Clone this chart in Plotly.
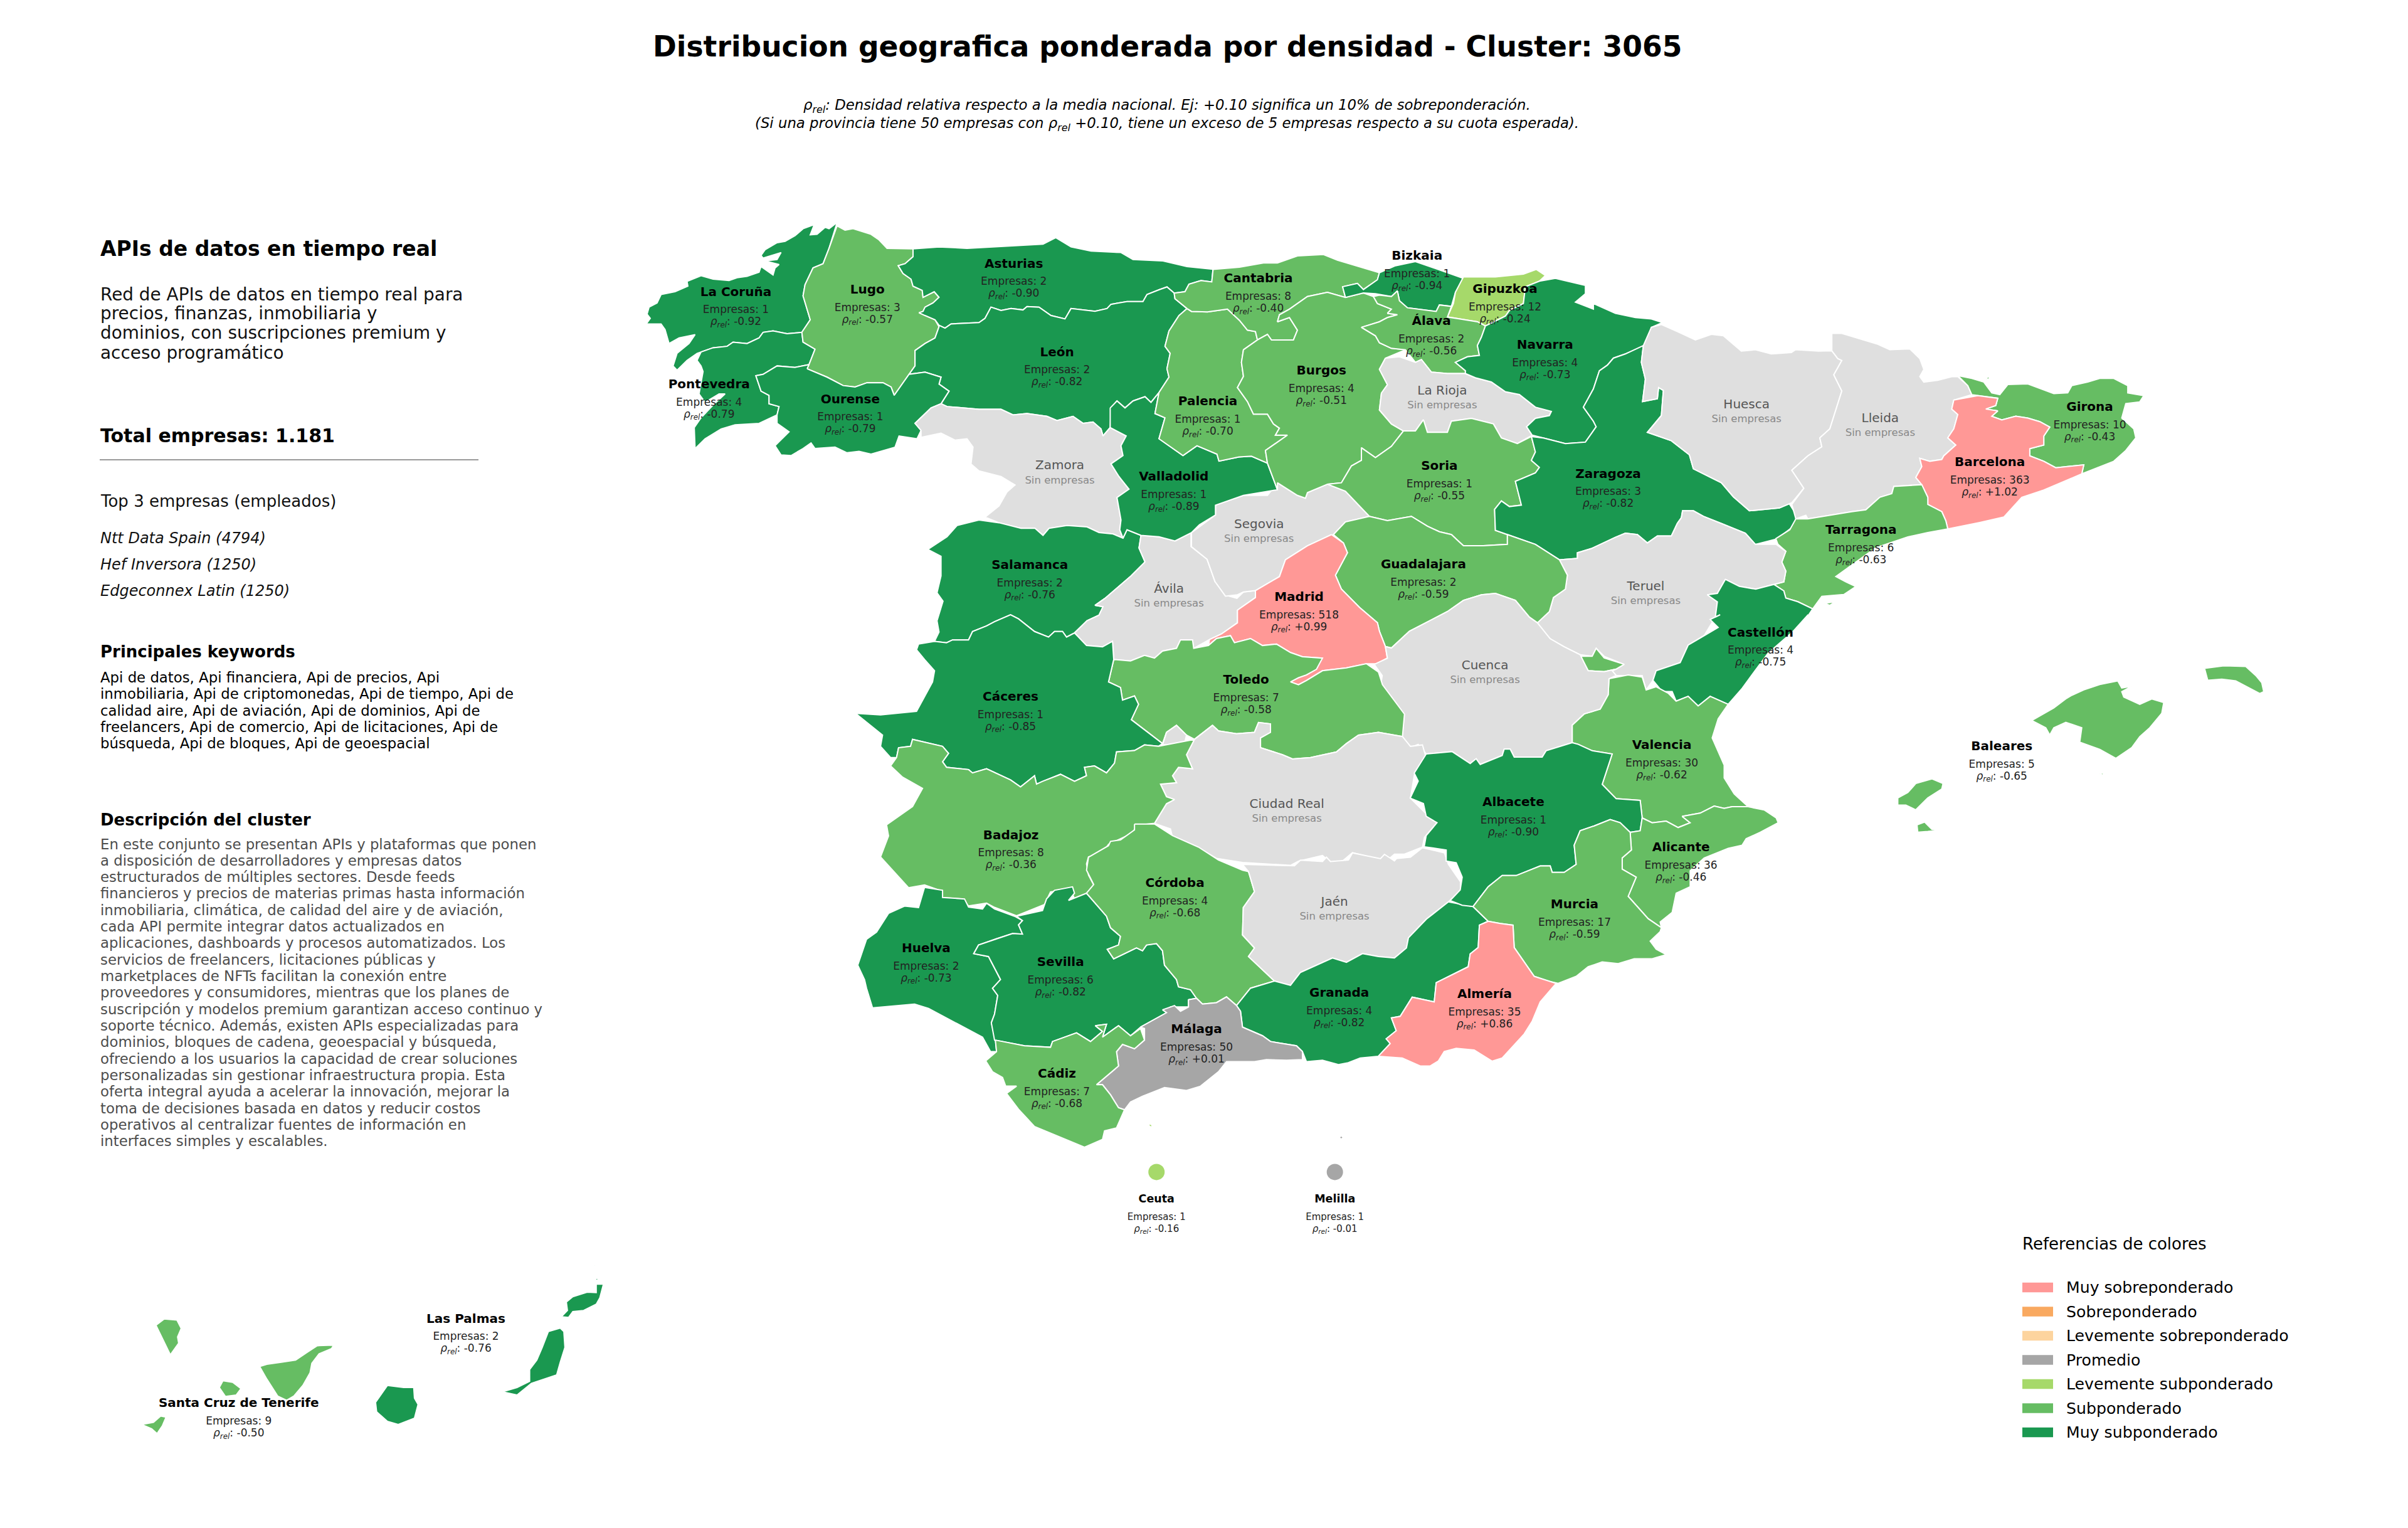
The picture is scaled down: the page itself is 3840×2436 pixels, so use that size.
import plotly.graph_objects as go

# ---------- data ----------
PROVINCES = ["La Coruña","Lugo","Asturias","León","Pontevedra","Ourense","Salamanca","Valladolid","Palencia",
             "Cantabria","Bizkaia","Gipuzkoa","Álava","Navarra","Burgos","Soria","Zaragoza","Guadalajara","Madrid",
             "Castellón","Girona","Barcelona","Tarragona","Baleares","Cáceres","Toledo","Badajoz","Córdoba","Huelva",
             "Sevilla","Granada","Málaga","Cádiz","Valencia","Albacete","Alicante","Murcia","Almería",
             "Las Palmas","Santa Cruz de Tenerife","Ceuta","Melilla"]
EMPRESAS = [1,3,2,2,4,1,2,1,1,8,1,12,2,4,4,1,3,2,518,4,10,363,6,5,1,7,8,4,2,6,4,50,7,30,1,36,17,35,2,9,1,1]
RHO = [-0.92,-0.57,-0.90,-0.82,-0.79,-0.79,-0.76,-0.89,-0.70,-0.40,-0.94,-0.24,-0.56,-0.73,-0.51,-0.55,-0.82,-0.59,0.99,
       -0.75,-0.43,1.02,-0.63,-0.65,-0.85,-0.58,-0.36,-0.68,-0.73,-0.82,-0.82,0.01,-0.68,-0.62,-0.90,-0.46,-0.59,0.86,
       -0.76,-0.50,-0.16,-0.01]
CLASSES = ["Muy subponderado","Subponderado","Muy subponderado","Muy subponderado","Muy subponderado","Muy subponderado",
           "Muy subponderado","Muy subponderado","Subponderado","Subponderado","Muy subponderado","Levemente subponderado",
           "Subponderado","Muy subponderado","Subponderado","Subponderado","Muy subponderado","Subponderado","Muy sobreponderado",
           "Muy subponderado","Subponderado","Muy sobreponderado","Subponderado","Subponderado","Muy subponderado","Subponderado",
           "Subponderado","Subponderado","Muy subponderado","Muy subponderado","Muy subponderado","Promedio","Subponderado",
           "Subponderado","Muy subponderado","Subponderado","Subponderado","Muy sobreponderado","Muy subponderado","Subponderado",
           "Levemente subponderado","Promedio"]
EMPTY = ["Zamora","Ávila","Segovia","La Rioja","Huesca","Lleida","Teruel","Cuenca","Ciudad Real","Jaén"]
LEGEND_LABELS = ["Muy sobreponderado","Sobreponderado","Levemente sobreponderado","Promedio",
                 "Levemente subponderado","Subponderado","Muy subponderado"]
LEGEND_COLORS = ["#FF9896","#F9A960","#FDD49E","#A6A6A6","#A6D96A","#66BD63","#1A9850"]
EMPTY_COLOR = "#DFDFDF"
TOP3 = ["Ntt Data Spain (4794)","Hef Inversora (1250)","Edgeconnex Latin (1250)"]
INTRO = ["Red de APIs de datos en tiempo real para","precios, finanzas, inmobiliaria y",
         "dominios, con suscripciones premium y","acceso programático"]
KEYWORDS = ["Api de datos, Api financiera, Api de precios, Api","inmobiliaria, Api de criptomonedas, Api de tiempo, Api de",
            "calidad aire, Api de aviación, Api de dominios, Api de","freelancers, Api de comercio, Api de licitaciones, Api de",
            "búsqueda, Api de bloques, Api de geoespacial"]
DESCRIPTION = ["En este conjunto se presentan APIs y plataformas que ponen","a disposición de desarrolladores y empresas datos",
  "estructurados de múltiples sectores. Desde feeds","financieros y precios de materias primas hasta información",
  "inmobiliaria, climática, de calidad del aire y de aviación,","cada API permite integrar datos actualizados en",
  "aplicaciones, dashboards y procesos automatizados. Los","servicios de freelancers, licitaciones públicas y",
  "marketplaces de NFTs facilitan la conexión entre","proveedores y consumidores, mientras que los planes de",
  "suscripción y modelos premium garantizan acceso continuo y","soporte técnico. Además, existen APIs especializadas para",
  "dominios, bloques de cadena, geoespacial y búsqueda,","ofreciendo a los usuarios la capacidad de crear soluciones",
  "personalizadas sin gestionar infraestructura propia. Esta","oferta integral ayuda a acelerar la innovación, mejorar la",
  "toma de decisiones basada en datos y reducir costos","operativos al centralizar fuentes de información en",
  "interfaces simples y escalables."]

# reading frames used when the outlines were traced: x0, y0, x-scale, y-scale
F = {1:(1000,320,1.568,2.24),2:(1900,350,1.568,2.24),3:(2800,500,1.568,1.742),4:(1350,980,1.568,2.24),
     5:(1350,1300,1.568,2.178),6:(2150,980,1.568,1.96),7:(150,2000,1.742,2.97)}

# province outlines: rings of (frame, "x,y x,y ...") pieces
OUTLINES = {
"La Coruña":[[(1,"525,78 505,100 495,95 475,120 458,122 468,85 440,100 420,125 395,145 375,150 345,175 335,195 340,205 385,185 375,210 345,215 380,228 370,240 365,265 335,235 330,255 300,270 275,275 255,285 215,280 185,268 150,288 152,305 120,325 85,335 75,365 55,380 50,405 58,420 48,440 85,440 95,460 105,510 130,490 170,478 155,510 125,545 115,590 125,605 150,570 175,545 185,540 215,525 250,520 265,505 300,510 330,490 340,470 365,465 400,475 437,470 458,425 440,340 445,300 465,240 490,225 505,170")]],
"Pontevedra":[[(1,"185,540 215,525 250,520 265,505 300,510 330,490 340,470 365,465 400,475 437,470 440,505 470,530 455,585 420,595 375,590 340,620 322,625 335,680 355,695 355,725 380,735 375,765 330,795 270,800 235,815 195,850 170,885 168,810 185,775 215,730 245,690 230,690 195,720 180,690 185,650 190,610 185,590 175,570")]],
"Lugo":[[(1,"525,90 545,105 565,100 610,120 630,140 650,170 715,172 715,200 695,225 678,232 690,260 710,280 715,305 738,320 740,345 768,325 780,345 765,365 745,380 740,395 730,400 745,410 770,425 780,450 770,490 745,510 720,535 720,590 705,620 668,695 660,665 640,650 600,650 570,665 540,660 500,630 450,600 455,585 470,530 440,505 437,470 458,425 440,340 445,300 465,240 490,225 505,170")]],
"Asturias":[[(1,"715,172 780,165 850,170 910,165 970,160 1040,155 1072,132 1110,165 1160,180 1235,185 1265,210 1340,215 1400,235 1465,245 1462,290 1435,285 1405,298 1395,325 1368,330 1350,308 1330,318 1300,335 1290,360 1250,360 1210,370 1200,385 1170,395 1110,385 1095,422 1060,410 1030,380 1000,378 990,390 960,385 935,392 910,380 895,420 880,435 810,440 795,455 780,445 770,425 745,410 730,400 740,395 745,380 765,365 780,345 768,325 740,345 738,320 715,305 710,280 690,260 678,232 695,225 715,200")]],
"León":[[(1,"780,445 795,455 810,440 880,435 895,420 910,380 935,392 960,385 990,390 1000,378 1030,380 1060,410 1095,422 1110,385 1170,395 1200,385 1210,370 1250,360 1290,360 1300,335 1330,318 1350,308 1368,330 1370,350 1400,385 1380,410 1355,465 1345,520 1358,545 1350,600 1355,630 1330,685 1310,720 1295,700 1265,715 1245,740 1225,715 1210,740 1208,810 1190,840 1185,815 1165,790 1140,795 1115,770 1075,785 1050,770 1000,760 965,765 935,745 880,745 800,735 785,725 805,680 780,655 785,630 745,612 705,620 720,590 720,535 745,510 770,490 780,450")]],
"Ourense":[[(1,"450,600 500,630 540,660 570,665 600,650 640,650 660,665 668,695 705,620 745,612 785,630 780,655 805,680 785,725 760,740 720,795 735,820 725,850 680,840 670,880 610,905 580,895 550,900 520,880 470,885 460,865 440,885 410,910 385,908 370,875 405,825 375,795 375,765 380,735 355,725 355,695 335,680 322,625 340,620 375,590 420,595 455,585")]],
"Zamora":[[(1,"785,725 800,735 880,745 935,745 965,765 1000,760 1050,770 1075,785 1115,770 1140,795 1165,790 1185,815 1190,840 1208,810 1235,830 1248,840 1235,875 1240,910 1210,940 1230,985 1255,1030 1225,1060 1235,1140 1232,1175 1240,1205 1215,1190 1180,1185 1150,1165 1100,1160 1055,1170 1040,1195 1020,1170 985,1170 930,1150 895,1130 930,1090 950,1040 970,1015 935,985 880,965 860,940 865,880 850,850 820,855 785,830 735,845 735,820 720,795 760,740")]],
"Salamanca":[[(1,"825,1160 880,1140 930,1150 985,1170 1020,1170 1040,1195 1055,1170 1100,1160 1150,1165 1180,1185 1215,1190 1240,1205 1250,1175 1285,1195 1280,1240 1295,1290 1260,1340 1195,1420 1170,1445 1190,1450 1180,1480 1150,1500"),(4,"570,65 550,80 540,60 520,60 505,80 470,60 430,15 410,0 370,25 350,40 315,60 305,90 265,90 250,100 220,95"),(1,"780,1540 775,1500 790,1430 775,1400 785,1340 785,1270 752,1245 800,1200")]],
"Ávila":[[(4,"570,65"),(1,"1150,1500 1180,1480 1190,1450 1170,1445 1195,1420 1260,1340 1295,1290 1280,1240 1285,1195 1330,1200 1370,1215 1410,1185 1410,1235 1450,1280 1470,1360 1500,1410 1525,1420"),(2,"130,1330 160,1325 160,1350 115,1395 115,1440 75,1480 45,1500"),(4,"868,120 865,90 835,90 825,120 790,130 770,155 745,145 710,165 668,160 665,95 640,115 600,110")]],
"Segovia":[[(2,"60,1020 130,985 190,985 215,940 265,985 285,995 290,975 340,945 385,970 445,1060 385,1080 355,1125 290,1165 235,1215 220,1275 160,1325 130,1330 115,1340 85,1345 59,1293 39,1213 0,1168 0,1118 60,1055")]],
"Valladolid":[[(1,"1208,740 1225,715 1245,740 1265,715 1295,700 1310,720 1330,685 1320,760 1345,775 1330,850 1390,910 1425,875 1475,905 1480,930 1530,915"),(2,"150,845 190,870 215,965 130,985 60,1020 60,1055 20,1090 0,1118"),(1,"1370,1215 1330,1200 1285,1195 1250,1175 1240,1205 1232,1175 1235,1140 1225,1060 1255,1030 1230,985 1210,940 1240,910 1235,875 1248,840 1208,810")]],
"Palencia":[[(1,"1400,385 1380,410 1355,465 1345,520 1358,545 1350,600 1355,630 1330,685 1320,760 1345,775 1330,850 1390,910 1425,875 1475,905 1480,930 1530,915"),(2,"150,845 190,870 185,825 240,770 210,770 220,745 205,730 190,695 155,695 140,650 115,600 130,560 125,510 130,465 165,430 160,400 140,395 120,360 90,320 40,330 0,328")]],
"Cantabria":[[(2,"54,178 120,170 180,155 215,155 265,130 330,125 365,145 400,160 470,190 465,215 430,250 415,228 378,240 385,278 340,260 290,275 245,320 220,340 215,365 245,350 265,395 255,430 200,430 190,410 165,430 160,400 140,395 120,360 90,320 40,330 0,328"),(1,"1400,385 1370,350 1368,330 1395,325 1405,298 1435,285 1462,290")]],
"Burgos":[[(2,"130,465 165,430 190,410 200,430 255,430 265,395 245,350 215,365 220,340 245,320 290,275 340,260 385,278 430,262 455,275 465,300 500,320 490,335 515,340 490,350 470,365 425,385 460,415 470,440 500,460 535,465 485,495 470,535 490,590 475,620 470,680 500,730 530,755 500,810 460,850 425,815 425,860 400,880 375,940 340,945 290,975 285,995 265,985 215,940 215,965 190,870 185,825 240,770 210,770 220,745 205,730 190,695 155,695 140,650 115,600 130,560 125,510")]],
"Bizkaia":[[(2,"470,190 510,165 560,150 600,170 650,195 680,210 660,260 650,310 620,305 612,328 540,315 520,290 515,255 500,275 460,265 430,262 385,278 378,240 415,228 430,250 465,215")]],
"Gipuzkoa":[[(2,"680,205 760,205 830,195 862,178 885,200 870,220 835,240 830,300 795,325 785,345 735,380 715,365 640,348 655,300 660,260")]],
"Álava":[[(2,"455,275 470,270 500,275 515,255 520,290 540,315 612,328 620,305 650,310 640,348 715,365 735,380 725,420 715,450 720,485 690,490 660,510 685,540 685,550 640,550 600,545 575,500 560,510 535,465 500,460 470,440 460,415 425,385 470,365 490,350 515,340 490,335 500,320 465,300")]],
"La Rioja":[[(2,"485,495 520,490 560,510 575,500 600,545 640,550 685,550 710,565 750,580 785,615 820,625 860,670 900,685 895,700 860,710 838,740 852,770 815,800 775,780 755,730 700,710 650,720 640,760 590,760 580,715 560,755 530,755 500,730 470,680 475,620 490,590 470,535")]],
"Soria":[[(2,"530,755 560,755 580,715 590,760 640,760 650,720 700,710 755,730 775,780 815,800 850,775 860,830 850,860 870,885 860,905 810,935 825,1020 795,1025 775,1005 758,1035 760,1110 790,1125 790,1160 730,1165 680,1165 665,1145 650,1125 620,1115 590,1095 550,1060 490,1075 445,1060 385,970 340,945 375,940 400,880 425,860 425,815 460,850 500,810")]],
"Navarra":[[(2,"870,220 910,210 985,235 985,265 960,295 1005,320 1005,300 1060,335 1110,350 1150,355 1178,368 1150,385 1145,440 1125,455 1085,480 1055,495 1040,520 1020,540 1005,605 980,670 1005,720 1012,740 985,795 935,800 880,780 852,770 838,740 860,710 895,700 900,685 860,670 820,625 785,615 750,580 710,565 685,550 685,540 660,510 690,490 720,485 715,450 725,420 735,380 785,345 795,325 830,300 835,240")],
           [(2,"1065,572 1078,558 1090,578")],[(2,"1047,585 1060,580 1056,595")]],
"Zaragoza":[[(2,"1130,450 1125,510 1135,570 1128,650 1165,640 1168,600 1180,610 1175,700 1140,760 1200,790 1245,840 1255,890 1325,940 1355,990 1395,1040 1470,1030 1495,1015 1515,1060 1510,1090 1465,1140 1410,1160 1385,1120 1325,1085 1280,1060 1255,1040 1228,1040 1225,1065 1215,1085 1200,1130 1165,1130 1140,1155 1115,1125 1085,1120 1060,1135 1000,1175 965,1190 965,1210 920,1215 860,1160 790,1125 760,1110 758,1035 775,1005 795,1025 825,1020 810,935 860,905 870,885 850,860 860,830 850,775 880,780 935,800 985,795 1012,740 1005,720 980,670 1005,605 1020,540 1040,520 1055,495 1085,480")]],
"Huesca":[[(2,"1130,450 1150,385 1175,375 1215,400 1260,430 1300,410 1330,415 1375,470 1410,465 1450,480 1500,475 1510,465 1568,470"),(3,"190,103 205,125 215,130 195,170 215,215 205,250 185,320 160,345 165,370 130,395 90,435 120,485 90,525"),(2,"1470,1030 1395,1040 1355,990 1325,940 1255,890 1245,840 1200,790 1140,760 1175,700 1180,610 1168,600 1165,640 1128,650 1135,570 1125,510")]],
"Lleida":[[(3,"190,103 190,55 215,55 260,70 305,85 335,100 385,98 410,125 420,155 410,175 420,190 455,185 490,175 505,175 530,200 540,225 495,240 490,265 505,280 495,320 480,345 500,365 470,395 465,405 435,410 410,402 415,425 400,455 415,475 345,480 340,500 310,510 275,545 240,550 130,570 125,560 100,570 90,530 120,485 90,435 130,395 165,370 160,345 185,320 205,250 215,215 195,170 215,130 205,125")]],
"Girona":[[(3,"505,172 540,180 570,190 590,220 610,225 630,197 680,195 715,210 745,222 780,220 790,200 830,190 860,180 895,180 930,200 930,220 970,228 960,245 925,250 915,290 945,320 950,345 925,380 895,410 850,430 815,445 820,420 750,428 720,410 685,395 685,375 720,365 720,340 735,315 710,300 680,290 650,285 615,295 590,285 605,270 575,265 600,255 605,235 555,228 540,225 530,200")],[(3,"576,182 582,172 584,182")]],
"Barcelona":[[(3,"495,240 555,228 605,235 600,255 575,265 605,270 590,285 615,295 650,285 680,290 710,300 735,315 720,340 720,365 685,375 685,395 720,410 750,428 820,420 815,445 720,490 665,510 620,565 560,580 480,598 475,575 465,550 430,530 430,510 415,475 400,455 415,425 410,402 435,410 465,405 470,395 500,365 480,345 495,320 505,280 490,265")]],
"Tarragona":[[(3,"130,570 240,550 275,545 310,510 340,500 345,480 415,475 430,510 430,530 465,550 475,575 480,598 430,608 380,620 300,650 250,690 200,730 225,745 250,758 220,780 165,785 142,820 105,800 75,790 70,770 45,752 70,745 75,715 65,690 75,660 55,640 50,625 85,600 100,570")],[(3,"172,805 198,800 185,810")]],
"Teruel":[[(2,"920,1215 965,1210 965,1190 1000,1175 1060,1135 1085,1120 1115,1125 1140,1155 1165,1130 1200,1130 1215,1085 1225,1065 1228,1040 1255,1040 1280,1060 1325,1085 1385,1120 1410,1160"),(3,"50,640 75,660 65,690 75,715 70,745 45,752 0,765"),(2,"1370,1310 1335,1285 1315,1335 1290,1340 1315,1365 1310,1420"),(6,"890,65 850,95 830,150 770,175 762,205 745,235 735,190 700,190 670,190 660,175 690,155 640,130 620,105 610,130 580,125 540,100 505,75 470,30"),(2,"865,1440 895,1400 905,1350 935,1320 940,1270")]],
"Castellón":[[(2,"1335,1285 1370,1310 1411,1320"),(3,"45,752 70,770 75,790 105,800 142,820 100,890"),(6,"1150,0 1110,55 1050,120 1020,170 985,230 950,280 905,255 875,285 850,255 820,270 810,240 785,240 762,205 770,175 830,150 850,95 890,65 925,40 905,15 930,0"),(2,"1310,1420 1315,1365 1290,1340 1315,1335")]],
"Valencia":[[(6,"652,200 700,188 735,195 745,235 770,225 800,245 820,270 850,255 875,285 905,255 950,280 925,325 910,385 940,470 940,510 965,560 1000,600 960,600 940,605 915,598 880,620 835,630 855,650 825,665 795,645 760,650 735,635 730,580 670,575 635,530 660,435 610,425 575,405 560,400 560,345 590,310 630,295 650,250")],
            [(6,"580,130 610,130 620,105 640,135 690,155 670,170 640,178 600,175")]],
"Guadalajara":[[(2,"355,1125 385,1080 445,1060 490,1075 550,1060 590,1095 620,1115 650,1125 665,1145 680,1165 730,1165 790,1160 790,1125 860,1160 920,1215 940,1270 935,1320 905,1350 895,1400 865,1440 845,1420 810,1360 760,1335 725,1340 680,1360 640,1400 600,1430 545,1470 500,1530 485,1525 470,1470 465,1440 420,1385 375,1320 360,1270 390,1190 380,1155")]],
"Madrid":[[(2,"350,1125 380,1155 390,1190 360,1270 375,1320 420,1385 465,1440 470,1470 485,1525"),(4,"1352,155 1325,175 1300,175 1250,190 1190,200 1150,235 1130,250 1110,240 1130,225 1190,155 1140,150 1110,135 1075,105 1040,110 1010,85 970,100 960,75 925,85 905,110"),(2,"45,1500 75,1480 115,1440 115,1395 160,1350 160,1325 220,1275 235,1215 290,1165")]],
"Cuenca":[[(2,"485,1525 500,1530 545,1470 600,1430 640,1400 680,1360 725,1340 760,1335 810,1360 845,1420 865,1440"),(6,"505,75 540,100 580,125 600,175 640,178 670,170 660,175 670,190 652,200 650,250 630,295 590,310 560,345 560,400 495,425 485,445 415,445 405,420 390,420 385,440 330,468 320,450 305,465 260,428 195,435 175,405 150,418 135,380 140,315 80,230 85,190 65,155 98,136")]],
"Toledo":[[(4,"668,160 710,165 745,145 770,155 790,130 825,120 835,90 865,90 868,120 905,110 925,85 960,75 970,100 1010,85 1040,110 1075,105 1110,135 1140,150 1190,155 1175,195 1150,215 1130,225 1110,240 1130,250 1150,235 1190,200 1250,190 1300,175 1330,205 1340,250 1395,355 1390,435 1330,420 1280,430 1250,460 1225,490 1160,510 1115,515 1090,500 1035,475 1035,440 1060,420 1060,390 1030,385 1020,420 975,425 930,415 915,395 870,445 850,430 825,395 800,420 790,460 712,375 730,320 720,290 690,305 685,260 655,240")]],
"Ciudad Real":[[(4,"870,445 915,395 930,415 975,425 1020,420 1030,385 1060,390 1060,420 1035,440 1035,475 1090,500 1115,515 1160,510 1225,490 1250,460 1280,430 1330,420 1390,435 1410,470 1440,465 1450,515 1420,570 1410,655 1445,705 1478,740 1445,795 1440,830 1395,855 1370,855 1350,880 1265,850 1240,880 1210,885 1190,860 1130,880 1110,895 990,885 925,870 870,825 815,795 810,765 770,745 800,675 820,660 800,650 785,605 825,600 815,575 830,545 865,550 850,500")],
               [(4,"800,420 825,395 850,430 845,460 790,465")]],
"Cáceres":[[(4,"220,95 250,100 265,90 305,90 315,60 350,40 370,25 410,0 430,15 470,60 505,80 520,60 540,60 550,80 570,65 600,110 640,115 665,95 668,160 655,240 685,260 690,305 720,290 730,320 712,375 790,460 780,470 745,465 720,485 675,490 670,530 650,565 620,540 595,545 600,575 570,595 535,570 490,595 475,605 470,575 435,615 410,590 380,570 350,550 315,565 305,553 250,545 240,525 255,495 240,470 165,445 160,470 130,475 125,510 110,510 85,470 90,430 60,395 22,352 85,358 175,345 215,240 220,200 195,160 175,125 180,105")]],
"Badajoz":[[(4,"125,510 130,475 160,470 165,445 240,470 255,495 240,525 250,545 305,553 315,565 350,550 380,570 410,590 435,615 470,575 475,605 490,595 535,570 570,595 600,575 595,545 620,540 650,565 670,530 675,490 720,485 745,465 780,470 870,445 850,500 865,550 830,545 815,575 825,600 785,605 800,650 820,660 800,675 770,745 725,752 715,780 685,800 655,820 640,850 605,865 600,890 605,930 618,965 600,995 570,1015 560,980 510,990 495,1035 425,1075 370,1045 350,1030 305,1040 290,1015 240,1010 235,985 195,965 155,975 85,865 105,790 100,750 165,685 190,620 140,580 110,540")]],
"Huelva":[[(5,"195,250 240,260 240,285 295,290 305,318 340,325 350,305 370,325 420,350 440,365 430,380 440,412 415,410 375,428 330,450 318,480 355,490 385,570 365,600 378,625 370,690 362,720 372,775 375,820 360,820 340,770 205,670 170,655 65,668 50,600 45,570 28,520 50,430 75,405 105,340 145,315 180,320")]],
"Sevilla":[[(5,"425,350 490,330 500,290 520,260 565,248 570,270 555,295 600,270 650,350 660,390 685,420 680,450 652,465 668,498 725,460 740,470 750,450 775,445 790,470 795,520 825,570 830,595 860,605 875,635 855,640 855,665 810,665 800,685 735,735 710,765 680,730 640,770 650,725 622,730 640,750 610,785 575,755 515,785 510,805 445,800 370,780 362,720 370,690 378,625 365,600 385,570 355,490 318,480 330,450 375,428 415,410 440,412 430,380 440,365")]],
"Córdoba":[[(5,"720,30 770,30 815,70 880,110 930,155 990,190 1005,195 1020,265 992,320 990,415 1020,460 1005,490 1070,575 1010,600 975,660 950,630 925,650 890,655 875,635 860,605 830,595 825,570 795,520 790,470 775,445 750,450 740,470 725,460 668,498 652,465 680,450 685,420 660,390 650,350 600,270 618,240 600,190 605,145 655,105 660,90 685,85 720,50")]],
"Jaén":[[(5,"990,170 1120,175 1135,155 1190,160 1200,145 1210,160 1255,155 1265,130 1335,150 1345,135 1370,158 1375,150 1410,145 1440,112 1495,130 1505,170 1535,230 1535,260 1505,300 1450,360 1405,425 1400,460 1370,495 1330,490 1290,480 1250,510 1215,495 1135,545 1110,590 1070,575 1005,490 1020,460 990,415 992,320 1020,265 1005,195")]],
"Granada":[[(5,"975,660 1010,600 1070,575 1110,590 1135,545 1215,495 1250,510 1290,480 1330,490 1370,495 1400,460 1405,425 1450,360 1505,300"),(6,"312,912 350,958 328,970 325,1040 305,1060 300,1100 220,1150 215,1210 160,1195 130,1255 108,1260 120,1300 95,1325 105,1340 75,1380 30,1385 0,1400"),(5,"1230,865 1190,850 1150,855 1140,820 1125,800 1060,785 1040,765 990,735 985,680")]],
"Málaga":[[(5,"855,640 875,635 890,655 925,650 950,630 975,660 985,680 990,735 1040,765 1060,785 1125,800 1140,820 1140,848 1100,850 1050,848 1020,855 950,855 930,890 885,940 850,955 795,945 740,975 710,995 695,1022 680,1015 660,970 640,935 625,935 680,870 675,820 690,795 720,810 745,780 745,740 735,735 800,685 790,675 820,660 835,680 855,665")]],
"Cádiz":[[(5,"372,780 445,800 510,805 515,785 575,755 610,785 640,750 622,730 650,725 640,770 680,730 710,765 735,740 745,780 720,810 690,795 675,820 680,870 625,935 640,935 660,970 680,1015 695,1022 675,1085 645,1095 640,1125 595,1152 530,1115 470,1080 430,1020 400,965 425,940 398,940 390,910 365,890 348,852 375,820")]],
"Albacete":[[(6,"195,435 260,428 305,465 320,450 330,468 385,440 390,420 405,420 415,445 485,445 495,425 560,400 575,405 610,425 660,435 635,530 670,575 730,580 735,635 730,675 705,680 680,650 655,640 615,660 580,675 565,720 570,780 540,805 510,805 505,785 480,785 420,815 385,815 350,850 312,912 285,908 255,893 280,860 285,820 270,775 245,770 245,735 190,725 195,690 222,650 195,630 188,590 155,573 175,520 165,495")]],
"Alicante":[[(6,"1000,600 1040,610 1070,635 1075,650 1030,680 995,700 985,720 950,730 890,760 855,800 855,850 820,870 810,930 780,960 783,978 750,950 700,880 720,820 685,795 685,760 708,735 705,680 730,675 735,635 760,650 795,645 825,665 855,650 835,630 880,620 915,598 940,605 960,600")]],
"Murcia":[[(6,"312,912 350,850 385,815 420,815 480,785 505,785 510,805 540,805 570,780 565,720 580,675 615,660 655,640 680,650 705,680 708,735 685,760 685,795 720,820 700,880 750,950 783,978 780,990 755,1020 770,1045 795,1062 760,1075 715,1075 675,1090 635,1085 600,1100 570,1130 525,1152 500,1145 465,1130 415,1040 412,970 380,965 350,958")]],
"Almería":[[(6,"350,958 380,965 412,970 415,1040 465,1130 520,1152 480,1210 460,1270 440,1310 410,1350 385,1385 360,1395 315,1360 270,1355 240,1365 225,1395 205,1410 180,1410 135,1385 75,1380 105,1340 95,1325 120,1300 108,1260 130,1255 160,1195 215,1210 220,1150 300,1100 305,1060 325,1040 328,970")]],
"Baleares":[[(3,"690,1130 745,1095 775,1070 790,1060 820,1045 860,1030 905,1020 915,1040 940,1035 915,1050 920,1065 960,1085 990,1070 1020,1080 1015,1110 985,1150 960,1175 940,1205 900,1235 860,1210 810,1190 815,1150 775,1135 745,1150 735,1170 725,1150")],
            [(3,"1122,985 1170,978 1225,980 1250,1005 1265,1025 1270,1050 1260,1055 1200,1020 1165,1015 1130,1018")],
            [(3,"355,1345 380,1330 400,1305 440,1292 468,1305 465,1320 430,1345 400,1378 375,1365 355,1365")],
            [(3,"403,1420 422,1412 440,1432 458,1435 430,1438 405,1440")],[(3,"860,1278 870,1275 868,1282")]],
"Santa Cruz de Tenerife":[[(7,"172,335 195,305 230,310 242,350 232,390 235,420 212,475 190,400")],
            [(7,"460,530 480,520 520,510 560,500 590,465 620,432 650,430 665,430 660,445 625,470 605,515 600,560 580,620 555,670 535,690 510,670 480,590")],
            [(7,"348,630 358,598 385,605 408,635 395,665 365,672")],[(7,"132,805 165,795 185,765 200,770 190,810 175,848 160,825")]],
"Las Palmas":[[(7,"1298,295 1315,265 1312,225 1330,200 1370,178 1395,180 1395,140 1415,140 1405,205 1395,235 1360,265 1330,270 1318,298")],
            [(7,"1390,125 1398,108 1400,120")],[(7,"1391,52 1395,47 1397,52")],
            [(7,"1262,365 1295,348 1305,365 1308,440 1295,510 1285,570 1215,610 1175,665 1135,650 1175,630 1210,600 1210,545 1230,500 1245,440")],
            [(7,"782,700 815,620 860,630 888,630 890,680 900,710 890,775 845,805 815,790 785,745")]],
"Ceuta":[[(5,"754,1070 762,1073 766,1082 758,1080")]],
"Melilla":[[(5,"1237,1112 1242,1118 1237,1125 1232,1118")]],
}

# label anchors (frame, x, y of the name line)
LABEL_AT = {"La Coruña":(1,272,323),"Lugo":(1,601,315),"Asturias":(1,967,222),"León":(1,1075,538),"Pontevedra":(1,205,653),
"Ourense":(1,558,706),"Zamora":(1,1082,943),"Salamanca":(1,1007,1298),"Valladolid":(1,1367,982),"Palencia":(1,1452,714),
"Ávila":(1,1355,1384),"Cantabria":(2,167,208),"Bizkaia":(2,564,126),"Gipuzkoa":(2,784,245),"Álava":(2,600,360),
"Navarra":(2,884,445),"Burgos":(2,325,537),"La Rioja":(2,627,608),"Huesca":(2,1388,657),"Soria":(2,620,878),
"Zaragoza":(2,1042,905),"Segovia":(2,169,1086),"Guadalajara":(2,580,1229),"Madrid":(2,269,1345),"Teruel":(2,1136,1306),
"Castellón":(2,1423,1472),"Lleida":(3,311,288),"Girona":(3,835,257),"Barcelona":(3,585,411),"Tarragona":(3,263,598),
"Baleares":(3,615,1199),"Cáceres":(4,410,290),"Toledo":(4,999,230),"Badajoz":(4,411,784),"Ciudad Real":(4,1101,673),
"Córdoba":(4,821,955),"Jaén":(4,1220,1022),"Huelva":(4,199,1188),"Sevilla":(4,535,1238),"Granada":(4,1232,1347),
"Málaga":(5,875,740),"Cádiz":(5,526,894),"Ceuta":(5,775,1329),"Melilla":(5,1221,1329),"Cuenca":(6,342,155),
"Valencia":(6,784,405),"Albacete":(6,413,583),"Alicante":(6,832,725),"Murcia":(6,566,903),"Almería":(6,341,1183),
"Las Palmas":(7,1033,300),"Santa Cruz de Tenerife":(7,402,700)}
CIRCLES = {"Ceuta":(5,775,1238),"Melilla":(5,1221,1238)}

FONT = "DejaVu Sans"

def to_px(frame, u, v):
    x0, y0, sx, sy = F[frame]
    return x0 + u / sx, y0 + v / sy

def ring_xy(ring):
    xs, ys = [], []
    for frame, s in ring:
        for pair in s.split():
            u, v = pair.split(",")
            x, y = to_px(frame, float(u), float(v))
            xs.append(x); ys.append(y)
    xs.append(xs[0]); ys.append(ys[0])
    return xs, ys

fig = go.Figure()
color_of = dict(zip(LEGEND_LABELS, LEGEND_COLORS))
fills = {n: color_of[c] for n, c in zip(PROVINCES, CLASSES)}
fills.update({n: EMPTY_COLOR for n in EMPTY})

for name, rings in OUTLINES.items():
    X, Y = [], []
    for ring in rings:
        a, b = ring_xy(ring)
        X += a + [None]; Y += b + [None]
    fig.add_trace(go.Scatter(x=X, y=Y, mode="lines", fill="toself", fillcolor=fills[name],
                             line=dict(color="white", width=2), hoverinfo="text", text=name, showlegend=False))

for name, (f, u, v) in CIRCLES.items():
    x, y = to_px(f, u, v)
    fig.add_trace(go.Scatter(x=[x], y=[y], mode="markers", marker=dict(size=26, color=fills[name], line=dict(width=0)),
                             hoverinfo="skip", showlegend=False))

def add_text(xs, ys, texts, size, color, bold=False):
    fig.add_trace(go.Scatter(x=xs, y=ys, mode="text", text=texts, textposition="middle center",
                             textfont=dict(family=FONT, size=size, color=color, weight="bold" if bold else "normal"),
                             hoverinfo="skip", showlegend=False))

small = {"Ceuta", "Melilla"}
DY = 2.5
nm, em, rh = ([], [], []), ([], [], []), ([], [], [])
snm, sem, srh = ([], [], []), ([], [], []), ([], [], [])
for n, e, r in zip(PROVINCES, EMPRESAS, RHO):
    f, u, v = LABEL_AT[n]
    x, y = to_px(f, u, v)
    y += DY
    A, B, C = (snm, sem, srh) if n in small else (nm, em, rh)
    A[0].append(x); A[1].append(y); A[2].append(n)
    B[0].append(x); B[1].append(y + 28.5); B[2].append(f"Empresas: {e}")
    C[0].append(x); C[1].append(y + 47.5); C[2].append(f"<i>ρ<sub>rel</sub></i>: {r:+.2f}")
add_text(*nm, 20, "#000000", True)
add_text(*em, 17, "#222222")
add_text(*rh, 17, "#222222")
add_text(*snm, 17.5, "#000000", True)
add_text(*sem, 15, "#222222")
add_text(*srh, 15, "#222222")
gx, gy, gt, sx_, sy_, st = [], [], [], [], [], []
for n in EMPTY:
    f, u, v = LABEL_AT[n]
    x, y = to_px(f, u, v)
    y += DY
    gx.append(x); gy.append(y); gt.append(n)
    sx_.append(x); sy_.append(y + 23); st.append("Sin empresas")
add_text(gx, gy, gt, 20, "#555555")
add_text(sx_, sy_, st, 16.5, "#888888")

ann = []
def T(x, y, text, size, color="#000000", bold=False, italic=False, anchor="left"):
    if italic:
        text = f"<i>{text}</i>"
    ann.append(dict(x=x, y=y, xref="x", yref="y", text=text, showarrow=False, xanchor=anchor, yanchor="middle",
                    font=dict(family=FONT, size=size, color=color, weight="bold" if bold else "normal"),
                    align="left", borderpad=0, borderwidth=0))

T(1861, 74, "Distribucion geografica ponderada por densidad - Cluster: 3065", 45.6, bold=True, anchor="center")
T(1861, 169, "ρ<sub>rel</sub>: Densidad relativa respecto a la media nacional. Ej: +0.10 significa un 10% de sobreponderación.", 22.8, italic=True, anchor="center")
T(1861, 198, "(Si una provincia tiene 50 empresas con ρ<sub>rel</sub> +0.10, tiene un exceso de 5 empresas respecto a su cuota esperada).", 22.8, italic=True, anchor="center")

LX = 160
T(LX, 396, "APIs de datos en tiempo real", 33, bold=True)
for y, s in zip([469, 499.5, 530, 562], INTRO):
    T(LX, y, s, 27.9, "#111111")
T(LX, 694, "Total empresas: 1.181", 30, bold=True)
T(LX, 799, "Top 3 empresas (empleados)", 26, "#111111")
for y, s in zip([858, 900, 942], TOP3):
    T(LX, y, s, 24, "#111111", italic=True)
T(LX, 1039, "Principales keywords", 26, bold=True)
for i, s in enumerate(KEYWORDS):
    T(LX, 1080 + i * 26.3, s, 22.8, "#000000")
T(LX, 1307, "Descripción del cluster", 26, bold=True)
for i, s in enumerate(DESCRIPTION):
    T(LX, 1345.5 + i * 26.33, s, 22.8, "#4d4d4d")

T(3225, 1983, "Referencias de colores", 26, "#000000")
shapes = [dict(type="line", xref="x", yref="y", x0=159, x1=763, y0=733, y1=733, line=dict(color="#999999", width=2))]
for i, (lab, col) in enumerate(zip(LEGEND_LABELS, LEGEND_COLORS)):
    yc = 2052.5 + i * 38.5
    shapes.append(dict(type="rect", xref="x", yref="y", x0=3225, x1=3274, y0=yc - 7.7, y1=yc + 7.7, fillcolor=col, line=dict(width=0)))
    T(3295, yc, lab, 25.2, "#000000")

fig.update_layout(width=3840, height=2436, margin=dict(l=0, r=0, t=0, b=0), paper_bgcolor="white", plot_bgcolor="white",
                  xaxis=dict(range=[0, 3840], visible=False, fixedrange=True),
                  yaxis=dict(range=[2436, 0], visible=False, fixedrange=True),
                  annotations=ann, shapes=shapes, showlegend=False, font=dict(family=FONT))
fig.write_html("out.html", config={"displayModeBar": False},
               post_script="document.body.style.margin='0';document.body.style.overflow='hidden';")
